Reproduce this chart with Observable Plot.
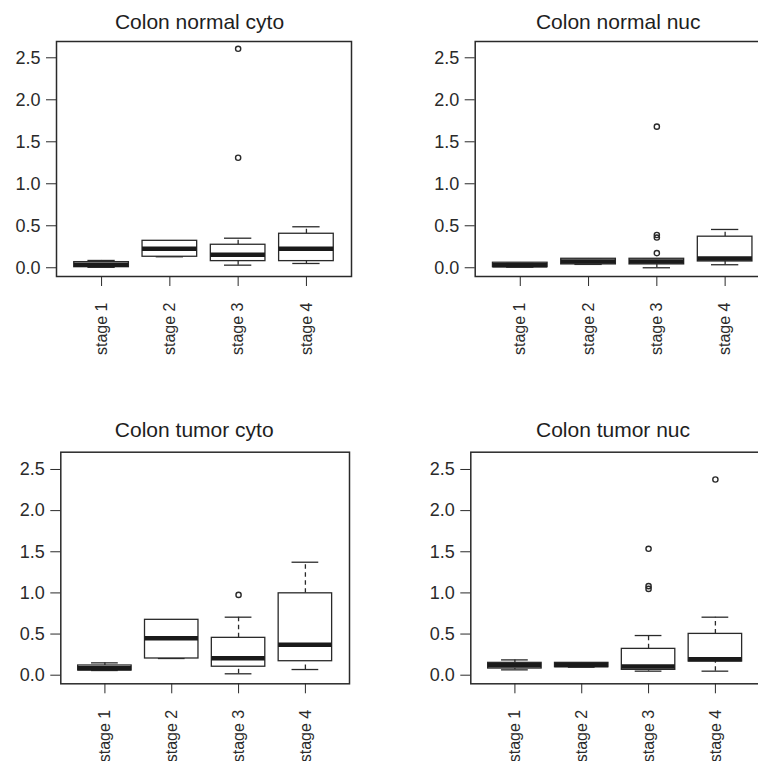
<!DOCTYPE html>
<html><head><meta charset="utf-8">
<script src="https://cdn.jsdelivr.net/npm/d3@7"></script>
<script src="https://cdn.jsdelivr.net/npm/@observablehq/plot@0.6"></script>
<style>
html,body{margin:0;padding:0;background:#fff;overflow:hidden;}
#root{position:relative;width:758px;height:761px;overflow:hidden;background:#fff;}
#root svg{position:absolute;}
</style></head><body><div id="root"></div>
<script>
// ---- data ----
const stages = [1, 2, 3, 4];
const stageLabels = ["stage 1", "stage 2", "stage 3", "stage 4"];
const yTicks = [0, 0.5, 1, 1.5, 2, 2.5];
const titles = ["Colon normal cyto", "Colon normal nuc", "Colon tumor cyto", "Colon tumor nuc"];

// per stage: [lower whisker, Q1, median, Q3, upper whisker]
const normalCyto = [[0.005, 0.007, 0.035, 0.067, 0.087], [0.131, 0.131, 0.226, 0.321, 0.321], [0.031, 0.079, 0.155, 0.274, 0.352], [0.051, 0.079, 0.226, 0.405, 0.488]];
const normalNuc  = [[0.007, 0.007, 0.03, 0.06, 0.06], [0.04, 0.04, 0.075, 0.107, 0.107], [0.0, 0.04, 0.075, 0.107, 0.107], [0.036, 0.075, 0.11, 0.37, 0.456]];
const tumorCyto  = [[0.057, 0.057, 0.085, 0.118, 0.15], [0.203, 0.203, 0.45, 0.673, 0.673], [0.017, 0.103, 0.207, 0.454, 0.705], [0.069, 0.17, 0.37, 0.995, 1.373]];
const tumorNuc   = [[0.065, 0.081, 0.12, 0.15, 0.186], [0.097, 0.097, 0.125, 0.15, 0.15], [0.049, 0.065, 0.105, 0.32, 0.482], [0.049, 0.166, 0.195, 0.502, 0.705]];

// outliers: [stage, value]
const normalCytoOut = [[3, 1.31], [3, 2.607]];
const normalNucOut  = [[3, 0.174], [3, 0.36], [3, 0.39], [3, 1.68]];
const tumorCytoOut  = [[3, 0.976]];
const tumorNucOut   = [[3, 1.049], [3, 1.082], [3, 1.536], [4, 2.378]];

// ---- layout ----
const ink = "#2a2a2a";
const font = "'Liberation Sans', Arial, Helvetica, sans-serif";
const layout = [
  {stats: normalCyto, out: normalCytoOut, left: 0,   top: 0,   width: 379, height: 380, ml: 56,   mr: 28,  mt: 41,   mb: 104,  y: [-0.104, 2.694],  tdx: 143,   tdy: -19},
  {stats: normalNuc,  out: normalNucOut,  left: 378, top: 0,   width: 400, height: 380, ml: 96.7, mr: 8.3, mt: 41,   mb: 104,  y: [-0.104, 2.694],  tdx: 143,   tdy: -19},
  {stats: tumorCyto,  out: tumorCytoOut,  left: 0,   top: 380, width: 379, height: 381, ml: 60.3, mr: 30,  mt: 71.7, mb: 77.7, y: [-0.1045, 2.71], tdx: 133.4, tdy: -22.4},
  {stats: tumorNuc,   out: tumorNucOut,   left: 378, top: 380, width: 400, height: 381, ml: 92.3, mr: 19,  mt: 71.7, mb: 77.7, y: [-0.1045, 2.71], tdx: 142.2, tdy: -22.4}
];

const root = document.getElementById("root");
layout.forEach((p, i) => {
  const rows = p.stats.map((s, j) => ({stage: stages[j], lw: s[0], q1: s[1], med: s[2], q3: s[3], uw: s[4]}));
  const outs = p.out.map(([stage, v]) => ({stage, v}));
  const chart = Plot.plot({
    width: p.width, height: p.height,
    marginLeft: p.ml, marginRight: p.mr, marginTop: p.mt, marginBottom: p.mb,
    x: {domain: [0.34, 4.66], label: null},
    y: {domain: p.y, label: null},
    style: {fontFamily: font, color: ink, background: "transparent", overflow: "visible"},
    marks: [
      Plot.ruleX(rows, {x: "stage", y1: "q3", y2: "uw", stroke: ink, strokeWidth: 1.3, strokeDasharray: "4.5,3.5"}),
      Plot.ruleX(rows, {x: "stage", y1: "lw", y2: "q1", stroke: ink, strokeWidth: 1.3, strokeDasharray: "4.5,3.5"}),
      Plot.ruleY(rows, {y: "uw", x1: d => d.stage - 0.2, x2: d => d.stage + 0.2, stroke: ink, strokeWidth: 1.3}),
      Plot.ruleY(rows, {y: "lw", x1: d => d.stage - 0.2, x2: d => d.stage + 0.2, stroke: ink, strokeWidth: 1.3}),
      Plot.rect(rows, {x1: d => d.stage - 0.4, x2: d => d.stage + 0.4, y1: "q1", y2: "q3", fill: "white", stroke: ink, strokeWidth: 1.3}),
      Plot.ruleY(rows, {y: "med", x1: d => d.stage - 0.4, x2: d => d.stage + 0.4, stroke: "#1a1a1a", strokeWidth: 4.5}),
      Plot.dot(outs, {x: "stage", y: "v", r: 2.6, stroke: ink, strokeWidth: 1.4, fill: "none"}),
      Plot.frame({stroke: ink, strokeWidth: 1.5}),
      Plot.axisY(yTicks, {tickFormat: d => d.toFixed(1), tickSize: 10, tickPadding: 6, fontSize: 18, stroke: ink, label: null}),
      Plot.axisX(stages, {tickFormat: d => stageLabels[d - 1], tickRotate: -90, tickSize: 10, tickPadding: 16, fontSize: 16, stroke: ink, label: null}),
      Plot.text([titles[i]], {frameAnchor: "top-left", dx: p.tdx, dy: p.tdy, fontSize: 21, textAnchor: "middle", lineAnchor: "middle", fill: "#1e1e1e"})
    ]
  });
  chart.style.left = p.left + "px";
  chart.style.top = p.top + "px";
  root.appendChild(chart);
});
</script></body></html>
